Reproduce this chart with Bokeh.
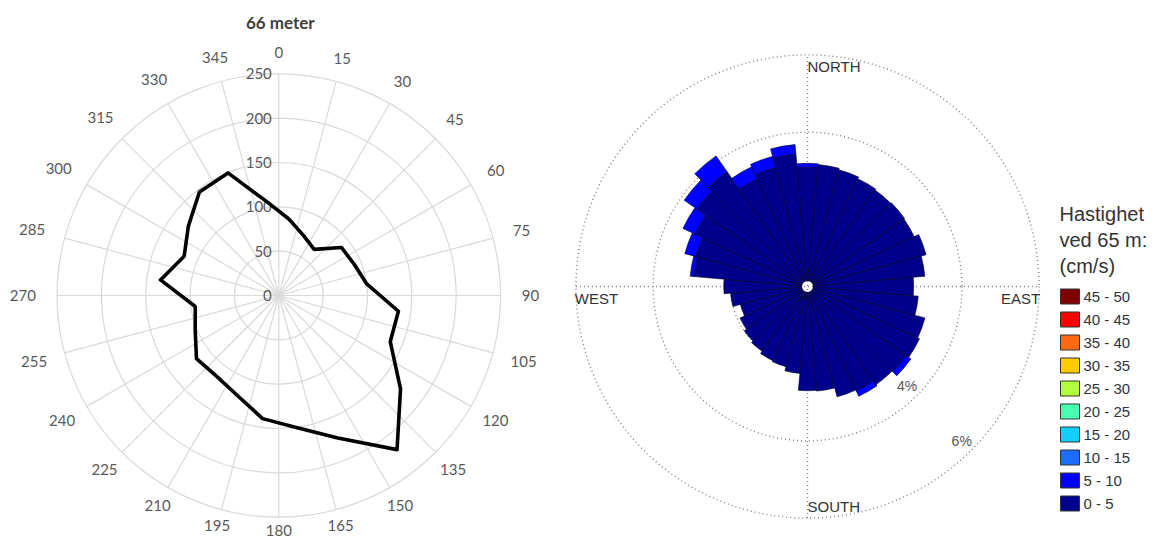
import numpy as np
from bokeh.plotting import figure
from bokeh.layouts import row
from bokeh.models import Range1d
from bokeh.core.properties import value
from bokeh.embed import file_html
from bokeh.resources import INLINE

# ---------------- data: left polar line chart ----------------
left_title = "66 meter"
left_directions = [7.5, 22.5, 37.5, 52.5, 67.5, 82.5, 97.5, 112.5, 127.5, 142.5, 157.5, 172.5,
                   187.5, 202.5, 217.5, 232.5, 247.5, 262.5, 277.5, 292.5, 307.5, 322.5, 337.5, 352.5]
left_values = [87, 73, 65.5, 89, 92, 100, 136, 136, 173, 219, 174, 150,
               140, 122, 115, 117, 102, 95, 134.5, 115.5, 128.5, 147, 149.6, 107]
left_radial_ticks = [0, 50, 100, 150, 200, 250]
left_angle_ticks = [0, 15, 30, 45, 60, 75, 90, 105, 120, 135, 150, 165,
                    180, 195, 210, 225, 240, 255, 270, 285, 300, 315, 330, 345]

# ---------------- data: right wind rose (frequency, %) ----------------
rose_directions = [0, 10, 20, 30, 40, 50, 60, 70, 80, 90, 100, 110, 120, 130, 140, 150, 160, 170,
                   180, 190, 200, 210, 220, 230, 240, 250, 260, 270, 280, 290, 300, 310, 320, 330, 340, 350]
rose_0_5 = [2.94, 3.02, 2.98, 2.93, 2.90, 2.92, 2.90, 3.03, 2.90, 2.60, 2.73, 3.00, 3.05, 2.97, 2.95, 2.84, 2.81, 2.57,
            2.55, 2.11, 2.00, 1.97, 1.90, 1.85, 1.78, 1.65, 1.85, 2.02, 2.80, 2.84, 3.06, 3.35, 3.48, 2.92, 3.04, 3.29]
rose_5_10 = [0.10, 0, 0, 0, 0, 0, 0, 0, 0, 0, 0, 0, 0, 0.15, 0, 0.15, 0, 0,
             0, 0, 0, 0, 0, 0, 0, 0, 0, 0, 0.10, 0.30, 0.35, 0.40, 0.50, 0.35, 0.30, 0.25]
rose_rings = [2, 4, 6]
rose_ring_labels = ["4%", "6%"]
rose_ring_label_values = [4, 6]
compass_labels = ["NORTH", "EAST", "SOUTH", "WEST"]
legend_title = ["Hastighet", "ved 65 m:", "(cm/s)"]
speed_bins = ["45 - 50", "40 - 45", "35 - 40", "30 - 35", "25 - 30",
              "20 - 25", "15 - 20", "10 - 15", "5 - 10", "0 - 5"]
speed_colors = ["#7f0000", "#ff0000", "#ff6a10", "#ffcc00", "#b4ff3c",
                "#46ffb0", "#10d0ff", "#1c6cff", "#0000ff", "#00008c"]

# ---------------- layout ----------------
W_L, W_R, H = 560, 596, 542

# left figure: pixel scale and centre (page pixels)
kL = 0.887
cxL, cyL = 278.3, 295.0
pL = figure(width=W_L, height=H,
            x_range=Range1d(-cxL / kL, (W_L - cxL) / kL),
            y_range=Range1d(-(H - cyL) / kL, cyL / kL),
            output_backend="svg", toolbar_location=None, min_border=0,
            x_axis_type=None, y_axis_type=None, outline_line_color=None)

grid_col = "#d9d9d9"
R_out = left_radial_ticks[-1]
rings = left_radial_ticks[1:]
pL.circle(x=[0] * len(rings), y=[0] * len(rings), radius=rings,
          fill_color=None, line_color=grid_col, line_width=1.2)
ang = np.radians(left_angle_ticks)
pL.segment(x0=0, y0=0, x1=R_out * np.sin(ang), y1=R_out * np.cos(ang),
           line_color=grid_col, line_width=1.2)

lab_font = value("Lato")
pL.text(x=[-7 / kL] * len(left_radial_ticks), y=left_radial_ticks,
        text=[str(t) for t in left_radial_ticks],
        text_align="right", text_baseline="middle",
        text_font=lab_font, text_font_size="15px", text_color="#595959")

lab_txt = [str(t) for t in left_angle_ticks]
r_px = np.array([243 - 8 * max(0.0, -np.cos(a)) + 4.3 * len(s) * abs(np.sin(a))
                 for s, a in zip(lab_txt, ang)])
r_lab = r_px / kL
pL.text(x=r_lab * np.sin(ang), y=r_lab * np.cos(ang), text=lab_txt,
        text_align="center", text_baseline="middle",
        text_font=lab_font, text_font_size="15px", text_color="#595959")

b = np.radians(left_directions)
v = np.array(left_values)
xs = list(v * np.sin(b)) + [v[0] * np.sin(b[0])]
ys = list(v * np.cos(b)) + [v[0] * np.cos(b[0])]
pL.line(xs, ys, line_color="black", line_width=3.6, line_join="round")

pL.text(x=[1.5 / kL], y=[(cyL - 22) / kL], text=[left_title],
        text_align="center", text_baseline="middle",
        text_font=lab_font, text_font_size="17px", text_font_style="bold",
        text_color="#404040")

# right figure
kR = 38.6
cxR, cyR = 807.0 - W_L, 286.0
pR = figure(width=W_R, height=H,
            x_range=Range1d(-cxR / kR, (W_R - cxR) / kR),
            y_range=Range1d(-(H - cyR) / kR, cyR / kR),
            output_backend="svg", toolbar_location=None, min_border=0,
            x_axis_type=None, y_axis_type=None, outline_line_color=None)

dot_col = "#7f7f7f"
Rmax = rose_rings[-1]
pR.circle(x=[0] * len(rose_rings), y=[0] * len(rose_rings), radius=rose_rings,
          fill_color=None, line_color=dot_col, line_width=1.4, line_dash="1 3")
pR.segment(x0=[-Rmax, 0], y0=[0, -Rmax], x1=[Rmax, 0], y1=[0, Rmax],
           line_color=dot_col, line_width=1.4, line_dash="1 3")

hole = 0.15
d = np.array(rose_directions, dtype=float)
start = np.radians(90 - (d + 5))
end = np.radians(90 - (d - 5))
inner = np.full(len(d), hole)
outer1 = inner + np.array(rose_0_5)
outer2 = outer1 + np.array(rose_5_10)
pR.annular_wedge(x=0, y=0, inner_radius=inner, outer_radius=outer1,
                 start_angle=start, end_angle=end,
                 fill_color=speed_colors[-1], line_color="#000022", line_width=0.6)
mask = np.array(rose_5_10) > 0
pR.annular_wedge(x=0, y=0, inner_radius=outer1[mask], outer_radius=outer2[mask],
                 start_angle=start[mask], end_angle=end[mask],
                 fill_color=speed_colors[-2], line_color="#000022", line_width=0.6)

txt_font = value("Liberation Sans")
a135 = np.radians(135)
lr = np.array(rose_ring_label_values) - 0.35
pR.text(x=lr * np.sin(a135), y=lr * np.cos(a135), text=rose_ring_labels,
        text_align="center", text_baseline="middle",
        text_font=txt_font, text_font_size="14px", text_color="#555555")

pR.text(x=[0, Rmax + 0.03, 0, -Rmax - 0.03], y=[Rmax - 0.07, -0.08, -Rmax + 0.08, -0.08],
        text=compass_labels,
        text_align=["left", "right", "left", "left"],
        text_baseline=["top", "top", "bottom", "top"],
        text_font=txt_font, text_font_size="15px", text_color="#333333")

# legend (positions in page pixels converted to data units)
def px(xp):
    return (xp - W_L - cxR) / kR

def py(yp):
    return (cyR - yp) / kR

title_y = [213, 239, 265]
pR.text(x=[px(1059)] * 3, y=[py(t) for t in title_y], text=legend_title,
        text_align="left", text_baseline="middle",
        text_font=txt_font, text_font_size="20px", text_color="#333333")
row_y = [296 + 23.0 * i for i in range(len(speed_bins))]
pR.rect(x=[px(1069.5)] * len(speed_bins), y=[py(t) for t in row_y],
        width=19 / kR, height=15 / kR,
        fill_color=speed_colors, line_color="#333333", line_width=1)
pR.text(x=[px(1083)] * len(speed_bins), y=[py(t) for t in row_y], text=speed_bins,
        text_align="left", text_baseline="middle",
        text_font=txt_font, text_font_size="15px", text_color="#333333")

layout = row(pL, pR)
open("out.html", "w").write(file_html(layout, INLINE))
